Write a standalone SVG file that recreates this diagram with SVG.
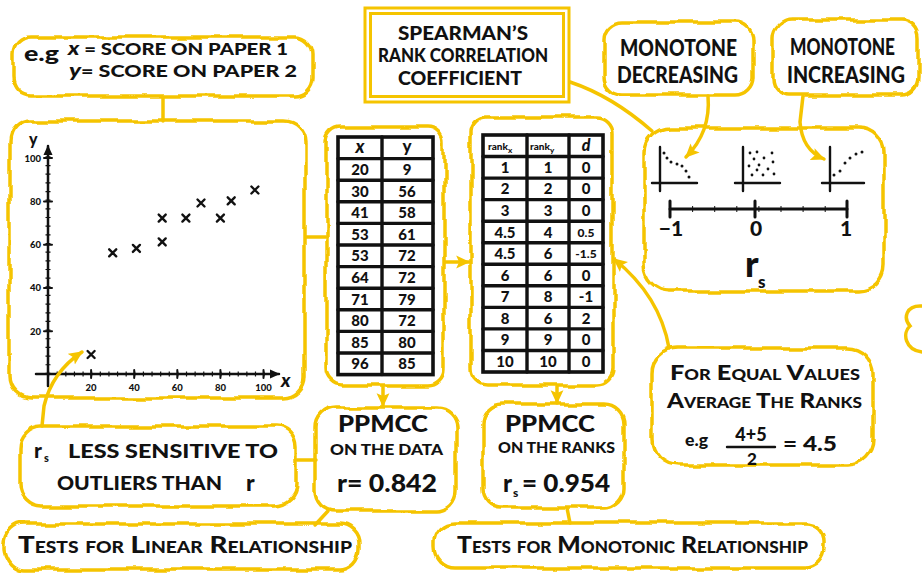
<svg xmlns="http://www.w3.org/2000/svg" xmlns:xlink="http://www.w3.org/1999/xlink" width="922" height="573" viewBox="0 0 922 573">
<style>
.t{font-family:Lato,'Open Sans','Liberation Sans',sans-serif;font-weight:900;fill:#111}
.sc{font-variant:small-caps}
.mid{text-anchor:middle}
.cloud{fill:#fff;stroke:#F5C400;stroke-width:3.5;filter:url(#wob)}
.frame{fill:none;stroke:#F5C400;stroke-width:3}
.conn{fill:none;stroke:#F5C400;stroke-width:3.5;stroke-linecap:round}
.blk{fill:none;stroke:#111;stroke-linecap:round}
.dot{fill:#111}
</style>
<defs>
<filter id="wob" x="-6%" y="-8%" width="112%" height="116%">
<feTurbulence type="fractalNoise" baseFrequency="0.032" numOctaves="2" seed="4"/>
<feDisplacementMap in="SourceGraphic" scale="8" xChannelSelector="R" yChannelSelector="G"/>
</filter>
<marker id="ah" viewBox="0 0 12 12" refX="11" refY="6" markerWidth="14" markerHeight="14" orient="auto" markerUnits="userSpaceOnUse">
<path d="M0,0.5 L12,6 L0,11.5 L2.5,6 Z" fill="#F5C400"/>
</marker>
<marker id="bh" viewBox="0 0 10 10" refX="9" refY="5" markerWidth="10" markerHeight="10" orient="auto" markerUnits="userSpaceOnUse">
<path d="M0,0.5 L10,5 L0,9.5 Z" fill="#111"/>
</marker>
<path id="xm" d="M-3.5,-3.5 L3.5,3.5 M3.5,-3.5 L-3.5,3.5" stroke="#111" stroke-width="2.4" stroke-linecap="round"/>
</defs>
<rect width="922" height="573" fill="#fff"/>

<g id="example-note">
<rect class="cloud" x="13" y="37" width="300" height="59" rx="18"/>
<text class="t" x="24" y="61" font-size="20" textLength="35" lengthAdjust="spacingAndGlyphs">e.g</text>
<text class="t" x="68" y="55" font-size="16" textLength="220" lengthAdjust="spacingAndGlyphs"><tspan font-style="italic" font-size="18">x</tspan> = SCORE ON PAPER 1</text>
<text class="t" x="69" y="77" font-size="16" textLength="228" lengthAdjust="spacingAndGlyphs"><tspan font-style="italic" font-size="18">y</tspan>= SCORE ON PAPER 2</text>
</g>

<g id="scatter">
<rect class="cloud" x="9" y="121" width="296" height="277" rx="22"/>
<line class="blk" x1="48" y1="386" x2="48" y2="146" stroke-width="2.5" marker-end="url(#bh)"/>
<line class="blk" x1="36" y1="374" x2="279" y2="374" stroke-width="2.5" marker-end="url(#bh)"/>
<line x1="48" y1="374" x2="48" y2="150" stroke="#111" stroke-width="5" stroke-dasharray="1.2 7.46"/>
<line x1="48" y1="374" x2="272" y2="374" stroke="#111" stroke-width="5" stroke-dasharray="1.2 7.42"/>
<g class="blk" stroke-width="2">
<path d="M44,158.1h8M44,201.4h8M44,244.7h8M44,288h8M44,331.3h8"/>
<path d="M91.1,370v8M134.2,370v8M177.3,370v8M220.4,370v8M263.5,370v8"/>
</g>
<g class="t" font-size="9.5" text-anchor="end">
<text x="41" y="161.5">100</text>
<text x="41" y="204.8">80</text>
<text x="41" y="248">60</text>
<text x="41" y="291.3">40</text>
<text x="41" y="334.6">20</text>
</g>
<g class="t mid" font-size="9.5">
<text x="91.1" y="391">20</text>
<text x="134.2" y="391">40</text>
<text x="177.3" y="391">60</text>
<text x="220.4" y="391">80</text>
<text x="263.5" y="391">100</text>
</g>
<text class="t" x="29" y="145" font-size="16">y</text>
<text class="t" x="281" y="387" font-size="19" font-style="italic">x</text>
<use href="#xm" x="91.1" y="354.5"/>
<use href="#xm" x="112.7" y="252.8"/>
<use href="#xm" x="136.4" y="248.4"/>
<use href="#xm" x="162.2" y="241.9"/>
<use href="#xm" x="162.2" y="218.1"/>
<use href="#xm" x="185.9" y="218.1"/>
<use href="#xm" x="201" y="203"/>
<use href="#xm" x="220.4" y="218.1"/>
<use href="#xm" x="231.2" y="200.8"/>
<use href="#xm" x="254.9" y="190"/>
</g>

<g id="data-table">
<rect class="cloud" x="326" y="127" width="118" height="258" rx="16"/>
<rect x="338" y="137" width="95" height="237.6" fill="#fff" stroke="#111" stroke-width="3.6"/>
<path class="blk" stroke-width="3.4" d="M338,158.6h95M338,180.2h95M338,201.8h95M338,223.4h95M338,245h95M338,266.6h95M338,288.2h95M338,309.8h95M338,331.4h95M338,353h95M382,137v237.6"/>
<g class="t mid" font-size="15">
<text x="360" y="153" font-style="italic" font-size="18">x</text><text x="407" y="152" font-size="17">y</text>
<text x="360" y="175">20</text><text x="407" y="175">9</text>
<text x="360" y="196.5">30</text><text x="407" y="196.5">56</text>
<text x="360" y="218">41</text><text x="407" y="218">58</text>
<text x="360" y="239.7">53</text><text x="407" y="239.7">61</text>
<text x="360" y="261.3">53</text><text x="407" y="261.3">72</text>
<text x="360" y="282.9">64</text><text x="407" y="282.9">72</text>
<text x="360" y="304.5">71</text><text x="407" y="304.5">79</text>
<text x="360" y="326.1">80</text><text x="407" y="326.1">72</text>
<text x="360" y="347.7">85</text><text x="407" y="347.7">80</text>
<text x="360" y="369.3">96</text><text x="407" y="369.3">85</text>
</g>
</g>

<g id="rank-table">
<rect class="cloud" x="471" y="117" width="142" height="268" rx="16"/>
<rect x="483" y="135" width="120" height="237" fill="#fff" stroke="#111" stroke-width="3.6"/>
<path class="blk" stroke-width="3.4" d="M483,156.5h120M483,178.1h120M483,199.6h120M483,221.2h120M483,242.7h120M483,264.3h120M483,285.8h120M483,307.4h120M483,328.9h120M483,350.5h120M527,135v237M569,135v237"/>
<g class="t" font-size="10">
<text x="488" y="150">rank<tspan font-size="8" dy="2.5">x</tspan></text>
<text x="530" y="150">rank<tspan font-size="8" dy="2.5">y</tspan></text>
</g>
<g class="t mid" font-size="15">
<text x="586" y="151" font-size="16" font-style="italic">d</text>
<text x="505" y="172.8">1</text><text x="548" y="172.8">1</text><text x="586" y="172.8">0</text>
<text x="505" y="194.4">2</text><text x="548" y="194.4">2</text><text x="586" y="194.4">0</text>
<text x="505" y="215.9">3</text><text x="548" y="215.9">3</text><text x="586" y="215.9">0</text>
<text x="505" y="237.5">4.5</text><text x="548" y="237.5">4</text><text x="586" y="236.5" font-size="12">0.5</text>
<text x="505" y="259">4.5</text><text x="548" y="259">6</text><text x="586" y="258" font-size="12">-1.5</text>
<text x="505" y="280.6">6</text><text x="548" y="280.6">6</text><text x="586" y="280.6">0</text>
<text x="505" y="302.1">7</text><text x="548" y="302.1">8</text><text x="586" y="302.1">-1</text>
<text x="505" y="323.7">8</text><text x="548" y="323.7">6</text><text x="586" y="323.7">2</text>
<text x="505" y="345.2">9</text><text x="548" y="345.2">9</text><text x="586" y="345.2">0</text>
<text x="505" y="366.8">10</text><text x="548" y="366.8">10</text><text x="586" y="366.8">0</text>
</g>
</g>

<g id="title">
<rect class="frame" x="365" y="8" width="204" height="94"/>
<rect class="frame" x="370.5" y="13.5" width="193" height="83"/>
<g class="t" font-size="19">
<text x="398" y="40" textLength="130" lengthAdjust="spacingAndGlyphs">SPEARMAN’S</text>
<text x="378" y="62" textLength="170" lengthAdjust="spacingAndGlyphs">RANK CORRELATION</text>
<text x="398" y="85" textLength="124" lengthAdjust="spacingAndGlyphs">COEFFICIENT</text>
</g>
</g>

<g id="monotone-decreasing">
<rect class="cloud" x="604" y="22" width="149" height="73" rx="18"/>
<text class="t" x="620" y="56" font-size="22" textLength="117" lengthAdjust="spacingAndGlyphs">MONOTONE</text>
<text class="t" x="617" y="83" font-size="22" textLength="121" lengthAdjust="spacingAndGlyphs">DECREASING</text>
</g>

<g id="monotone-increasing">
<rect class="cloud" x="773" y="20" width="146" height="75" rx="18"/>
<text class="t" x="790" y="55" font-size="22" textLength="105" lengthAdjust="spacingAndGlyphs">MONOTONE</text>
<text class="t" x="787" y="83" font-size="22" textLength="118" lengthAdjust="spacingAndGlyphs">INCREASING</text>
</g>

<g id="rs-scale">
<rect class="cloud" x="644" y="128" width="240" height="163" rx="26"/>
<g class="blk" stroke-width="2.4">
<path d="M660,147V191M652,183H697"/>
<path d="M743,147V191M735,183H780"/>
<path d="M830,147V191M822,183H864"/>
</g>
<g class="dot">
<circle cx="664" cy="153" r="1.5"/><circle cx="667" cy="158" r="1.5"/><circle cx="671" cy="162" r="1.5"/><circle cx="677" cy="164" r="1.5"/><circle cx="682" cy="166" r="1.5"/><circle cx="686" cy="171" r="1.5"/><circle cx="689" cy="177" r="1.5"/>
<circle cx="750" cy="153" r="1.4"/><circle cx="757" cy="152" r="1.4"/><circle cx="772" cy="153" r="1.4"/><circle cx="754" cy="159" r="1.4"/><circle cx="764" cy="158" r="1.4"/><circle cx="773" cy="162" r="1.4"/><circle cx="749" cy="166" r="1.4"/><circle cx="759" cy="165" r="1.4"/><circle cx="768" cy="169" r="1.4"/><circle cx="752" cy="175" r="1.4"/><circle cx="763" cy="175" r="1.4"/><circle cx="774" cy="174" r="1.4"/><circle cx="757" cy="170" r="1.4"/>
<circle cx="834" cy="175" r="1.5"/><circle cx="840" cy="171" r="1.5"/><circle cx="845" cy="163" r="1.5"/><circle cx="850" cy="158" r="1.5"/><circle cx="856" cy="154" r="1.5"/><circle cx="862" cy="152" r="1.5"/>
</g>
<line class="blk" x1="670" y1="209" x2="847" y2="209" stroke-width="3"/>
<line x1="670" y1="209" x2="847" y2="209" stroke="#111" stroke-width="6" stroke-dasharray="1 21.1"/>
<path class="blk" stroke-width="3" d="M670,201V217M755,201V217M847,201V217"/>
<g class="t mid" font-size="21">
<text x="671" y="236">−1</text>
<text x="756" y="236">0</text>
<text x="846" y="236">1</text>
</g>
<text class="t" x="745" y="277" font-size="36">r</text>
<text class="t" x="758" y="288" font-size="17">s</text>
</g>

<g id="equal-values">
<rect class="cloud" x="652" y="348" width="221" height="117" rx="26"/>
<text class="t sc" x="670" y="380" font-size="21" textLength="190" lengthAdjust="spacingAndGlyphs">For Equal Values</text>
<text class="t sc" x="667" y="408" font-size="21" textLength="195" lengthAdjust="spacingAndGlyphs">Average The Ranks</text>
<text class="t" x="685" y="446" font-size="17" textLength="23" lengthAdjust="spacingAndGlyphs">e.g</text>
<text class="t mid" x="751" y="441" font-size="18">4+5</text>
<line class="blk" x1="727" y1="447" x2="775" y2="447" stroke-width="2.4"/>
<text class="t mid" x="752" y="465" font-size="17">2</text>
<text class="t" x="783" y="451" font-size="21" textLength="54" lengthAdjust="spacingAndGlyphs">= 4.5</text>
</g>

<g id="outliers-note">
<rect class="cloud" x="20" y="426" width="277" height="80" rx="22"/>
<text class="t" x="34" y="458" font-size="21">r</text>
<text class="t" x="44" y="462" font-size="11">s</text>
<text class="t" x="68" y="458" font-size="19" textLength="210" lengthAdjust="spacingAndGlyphs">LESS SENSITIVE TO</text>
<text class="t" x="57" y="490" font-size="19" textLength="165" lengthAdjust="spacingAndGlyphs">OUTLIERS THAN</text>
<text class="t" x="246" y="491" font-size="23">r</text>
</g>

<g id="ppmcc-data">
<rect class="cloud" x="315" y="408" width="142" height="103" rx="20"/>
<text class="t" x="338" y="432" font-size="22" textLength="90" lengthAdjust="spacingAndGlyphs">PPMCC</text>
<text class="t" x="330" y="455" font-size="15" textLength="113" lengthAdjust="spacingAndGlyphs">ON THE DATA</text>
<text class="t" x="337" y="492" font-size="24" textLength="100" lengthAdjust="spacingAndGlyphs">r= 0.842</text>
</g>

<g id="ppmcc-ranks">
<rect class="cloud" x="482" y="404" width="142" height="104" rx="20"/>
<text class="t" x="505" y="432" font-size="22" textLength="90" lengthAdjust="spacingAndGlyphs">PPMCC</text>
<text class="t" x="498" y="453" font-size="15" textLength="117" lengthAdjust="spacingAndGlyphs">ON THE RANKS</text>
<text class="t" x="503" y="492" font-size="24">r</text>
<text class="t" x="513" y="497" font-size="12">s</text>
<text class="t" x="522" y="492" font-size="24" textLength="88" lengthAdjust="spacingAndGlyphs">= 0.954</text>
</g>

<g id="linear">
<rect class="cloud" x="5" y="524" width="355" height="45" rx="20"/>
<text class="t sc" x="18" y="553" font-size="23" textLength="334" lengthAdjust="spacingAndGlyphs">Tests for Linear Relationship</text>
</g>

<g id="monotonic">
<rect class="cloud" x="435" y="523" width="390" height="45" rx="20"/>
<text class="t sc" x="457" y="553" font-size="23" textLength="351" lengthAdjust="spacingAndGlyphs">Tests for Monotonic Relationship</text>
</g>

<g id="edge-cloud">
<path class="conn" d="M922,306 C906,305 903,318 910,326 C902,333 905,350 922,352"/>
</g>

<g id="connectors">
<path class="conn" d="M163,97 V121"/>
<path class="conn" d="M306,237 H326"/>
<path class="conn" d="M445,262 H469" marker-end="url(#ah)"/>
<path class="conn" d="M383,386 V406" marker-end="url(#ah)"/>
<path class="conn" d="M557,386 V403" marker-end="url(#ah)"/>
<path class="conn" d="M328,511 L315,525"/>
<path class="conn" d="M567,508 L570,523"/>
<path class="conn" d="M297,460 H316"/>
<path class="conn" d="M42,426 L44,406 Q52,372 82,352" marker-end="url(#ah)"/>
<path class="conn" d="M669,348 Q660,296 614,259" marker-end="url(#ah)"/>
<path class="conn" d="M570,82 Q612,96 652,131"/>
<path class="conn" d="M708,96 Q711,132 686,157" marker-end="url(#ah)"/>
<path class="conn" d="M803,96 L800,122 Q802,150 824,159" marker-end="url(#ah)"/>
</g>
</svg>
